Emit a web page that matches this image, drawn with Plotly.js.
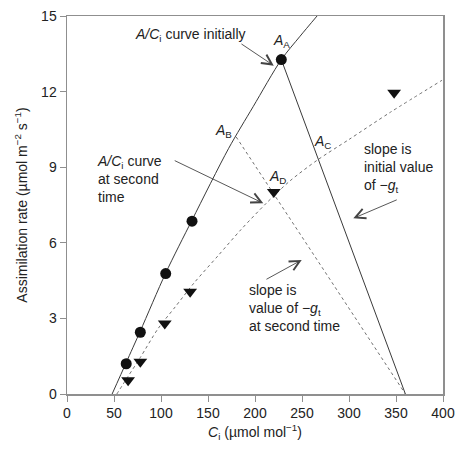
<!DOCTYPE html>
<html>
<head>
<meta charset="utf-8">
<script src="https://cdn.plot.ly/plotly-3.0.1.min.js"></script>
<style>html,body{margin:0;padding:0;background:#fff;}#chart{width:455px;height:453px;}</style>
</head>
<body>
<div id="chart"></div>
<script>
// Measured points (filled circles: initial; filled down-triangles: second time)
const circleCi = [63, 78, 105, 133, 228];
const circleA = [1.2, 2.45, 4.78, 6.86, 13.27];
const triCi = [65, 78, 104, 131, 220, 348];
const triA = [0.55, 1.28, 2.8, 4.06, 8.02, 11.95];

// A/Ci curve initially (solid)
const initCurveCi = [48, 63, 78, 105, 133, 172, 198, 228, 248, 266];
const initCurveA = [0, 1.25, 2.5, 4.8, 6.9, 9.75, 11.4, 13.27, 14.2, 15.0];

// A/Ci curve at second time (dotted)
const secondCurveCi = [53, 65, 78, 97, 115, 135, 161, 185, 212, 237, 267, 300, 344, 399];
const secondCurveA = [0, 0.7, 1.45, 2.6, 3.45, 4.4, 5.5, 6.52, 7.57, 8.45, 9.3, 10.1, 11.18, 12.45];

// Supply lines (slope = -g_t)
const slopeInitCi = [228, 360];
const slopeInitA = [13.27, 0];
const slopeSecondCi = [180, 360];
const slopeSecondA = [10.2, 0];

const xTicks = [0, 50, 100, 150, 200, 250, 300, 350, 400];
const yTicks = [0, 3, 6, 9, 12, 15];

const solidColor = '#3a3a3a';
const dotColor = '#707070';
const txtColor = '#222';
const fontFam = 'Liberation Sans, Arial, sans-serif';
const fs = 14;

const traces = [
  {x: initCurveCi, y: initCurveA, mode: 'lines', line: {color: solidColor, width: 1, shape: 'spline', smoothing: 0.8}, hoverinfo: 'skip'},
  {x: secondCurveCi, y: secondCurveA, mode: 'lines', line: {color: dotColor, width: 1, dash: 'dot', shape: 'spline', smoothing: 0.8}, hoverinfo: 'skip'},
  {x: slopeInitCi, y: slopeInitA, mode: 'lines', line: {color: solidColor, width: 1}, hoverinfo: 'skip'},
  {x: slopeSecondCi, y: slopeSecondA, mode: 'lines', line: {color: dotColor, width: 1, dash: 'dot'}, hoverinfo: 'skip'},
  {x: circleCi, y: circleA, mode: 'markers', marker: {symbol: 'circle', size: 11, color: '#111'}},
  {x: triCi, y: triA, mode: 'markers', marker: {symbol: 'triangle-down', size: 12, color: '#111'}}
];

function arrow(tx, ty, fx, fy) {
  return {x: tx, y: ty, ax: fx, ay: fy, xref: 'x', yref: 'y', axref: 'x', ayref: 'y',
    text: '', showarrow: true, arrowhead: 5, arrowsize: 2.2, arrowwidth: 0.9, arrowcolor: '#444', standoff: 0, startstandoff: 0};
}
function label(x, y, text, xa, opts) {
  return Object.assign({x: x, y: y, xref: 'x', yref: 'y', text: text, showarrow: false,
    xanchor: xa || 'center', yanchor: 'middle', align: 'left',
    font: {family: fontFam, size: fs, color: txtColor}}, opts || {});
}

const annotations = [
  label(70, 14.25, '<i>A/C</i><sub>i</sub> curve initially', 'left'),
  arrow(220, 13.03, 184, 13.93),
  label(228, 14.0, '<i>A</i><sub>A</sub>'),
  label(167, 10.45, '<i>A</i><sub>B</sub>'),
  label(272, 10.0, '<i>A</i><sub>C</sub>'),
  label(224, 8.6, '<i>A</i><sub>D</sub>'),
  label(30, 8.55, '<i>A/C</i><sub>i</sub> curve<br>at second<br>time', 'left'),
  arrow(208.8, 7.57, 113, 9.29),
  label(313.5, 8.95, 'slope is<br>initial value<br>of −<i>g</i><sub>t</sub>', 'left'),
  arrow(304.6, 6.97, 352.4, 7.73),
  label(191, 3.4, 'slope is<br>value of −<i>g</i><sub>t</sub><br>at second time', 'left'),
  arrow(249.7, 5.32, 210.6, 4.52)
];

const axisCommon = {
  showgrid: false, zeroline: false, showline: true, mirror: true,
  linecolor: '#8f8f8f', linewidth: 1.5, ticks: 'outside', ticklen: 6, tickwidth: 1, tickcolor: '#8f8f8f',
  tickfont: {family: fontFam, size: fs, color: txtColor}
};

const layout = {
  width: 455, height: 453,
  margin: {l: 67, r: 12, t: 16, b: 59},
  paper_bgcolor: '#fff', plot_bgcolor: '#fff',
  showlegend: false,
  font: {family: fontFam, size: fs, color: txtColor},
  xaxis: Object.assign({}, axisCommon, {
    range: [0, 400], tickvals: xTicks, ticktext: xTicks.map(String),
    title: {text: '<i>C</i><sub>i</sub> (µmol mol<sup>−1</sup>)', font: {family: fontFam, size: fs, color: txtColor}, standoff: 7}
  }),
  yaxis: Object.assign({}, axisCommon, {
    range: [0, 15], tickvals: yTicks, ticktext: yTicks.map(String),
    title: {text: 'Assimilation rate (µmol m<sup>−2</sup> s<sup>−1</sup>)', font: {family: fontFam, size: fs, color: txtColor}, standoff: 10}
  }),
  annotations: annotations
};

Plotly.newPlot('chart', traces, layout, {displayModeBar: false, staticPlot: true});
</script>
</body>
</html>
